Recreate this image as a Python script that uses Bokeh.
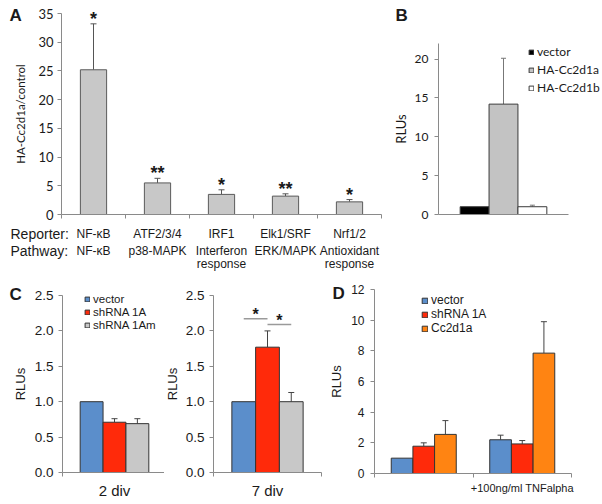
from bokeh.plotting import figure
from bokeh.models import (Range1d, FixedTicker, Whisker, TeeHead, Label, Legend,
                          LegendItem, ColumnDataSource, PrintfTickFormatter)
from bokeh.layouts import row, column
from bokeh.embed import file_html
from bokeh.resources import INLINE

# ---------------- data ----------------
# Panel A
a_reporters = ["NF-κB", "ATF2/3/4", "IRF1", "Elk1/SRF", "Nrf1/2"]
a_pathways = ["NF-κB", "p38-MAPK", "Interferon\nresponse", "ERK/MAPK", "Antioxidant\nresponse"]
a_values = [25.2, 5.5, 3.5, 3.2, 2.2]
a_errors = [8.0, 0.8, 0.8, 0.4, 0.4]
a_signif = ["*", "**", "*", "**", "*"]
a_yticks = [0, 5, 10, 15, 20, 25, 30, 35]

# Panel B
b_series = ["vector", "HA-Cc2d1a", "HA-Cc2d1b"]
b_values = [1.0, 14.2, 1.0]
b_errors = [0.0, 5.9, 0.2]
b_yticks = [0, 5, 10, 15, 20]

# Panel C
c_series = ["vector", "shRNA 1A", "shRNA 1Am"]
c_2div = [1.0, 0.71, 0.69]
c_2div_err = [0.0, 0.05, 0.07]
c_7div = [1.0, 1.77, 1.0]
c_7div_err = [0.0, 0.23, 0.13]
c_yticks = [0.0, 0.5, 1.0, 1.5, 2.0, 2.5]
c_7div_pairs = [(0, 1), (1, 2)]
c_7div_pair_heights = [2.17, 2.09]
c_7div_pair_signif = ["*", "*"]

# Panel D
d_series = ["vector", "shRNA 1A", "Cc2d1a"]
d_groups = ["", "+100ng/ml TNFalpha"]
d_vector = [1.0, 2.2]
d_shrna = [1.78, 1.93]
d_cc2d1a = [2.55, 7.85]
d_vector_err = [0.0, 0.3]
d_shrna_err = [0.22, 0.22]
d_cc2d1a_err = [0.9, 2.05]
d_yticks = [0, 2, 4, 6, 8, 10, 12]

# ---------------- styling ----------------
ARIAL = "Liberation Sans"
CALIBRI = "Lato"
AXIS_GREY = "#8a8a8a"
TEXT = "#1a1a1a"
BLUE = "#5b8ecb"
RED = "#ff2a0a"
GREY = "#c8c8c8"
ORANGE = "#ff8412"


def make_panel(ox, oy, width, height, box, xr, yr):
    """Figure whose frame fills the whole figure; the axes are drawn at the
    box (in page pixels) that holds the data ranges xr, yr."""
    bx0, by0, bx1, by1 = box
    kx = (xr[1] - xr[0]) / (bx1 - bx0)
    ky = (yr[1] - yr[0]) / (by1 - by0)
    X0 = xr[0] - (bx0 - ox) * kx
    X1 = xr[1] + (ox + width - bx1) * kx
    Y0 = yr[0] - (oy + height - by1) * ky
    Y1 = yr[1] + (by0 - oy) * ky
    p = figure(width=width, height=height, x_range=Range1d(X0, X1), y_range=Range1d(Y0, Y1),
               output_backend="svg", toolbar_location=None,
               min_border=0, min_border_left=0, min_border_right=0,
               min_border_top=0, min_border_bottom=0)
    p.xgrid.visible = False
    p.ygrid.visible = False
    p.outline_line_color = None
    p.background_fill_color = "white"
    p.border_fill_color = "white"

    def fx(rx):
        return xr[0] + (rx - bx0) * kx

    def fy(ry):
        return yr[0] + (by1 - ry) * ky

    def loc(rx, ry_bottom):
        return (rx - ox, oy + height - ry_bottom)

    p.xaxis.fixed_location = yr[0]
    p.xaxis.bounds = xr
    p.yaxis.fixed_location = xr[0]
    p.yaxis.bounds = yr
    for ax in (p.xaxis[0], p.yaxis[0]):
        ax.axis_line_color = AXIS_GREY
        ax.major_tick_line_color = AXIS_GREY
        ax.minor_tick_line_color = AXIS_GREY
        ax.major_tick_in = 0
        ax.major_tick_out = 4
        ax.minor_tick_in = 0
        ax.minor_tick_out = 4
        ax.major_label_text_color = TEXT
        ax.axis_label_text_color = TEXT
        ax.axis_label_text_font_style = "normal"
    return p, fx, fy, loc


def label(p, x, y, text, font=ARIAL, size="13px", align="center", baseline="middle",
          style="normal", y_offset=0):
    p.add_layout(Label(x=x, y=y, text=text, text_font=font, text_font_size=size,
                       text_align=align, text_baseline=baseline, text_font_style=style,
                       text_color=TEXT, y_offset=y_offset))


def whiskers(p, xs, tops, errs, color, head):
    keep = [i for i, e in enumerate(errs) if e > 0]
    src = ColumnDataSource(dict(x=[xs[i] for i in keep], top=[tops[i] for i in keep],
                                upper=[tops[i] + errs[i] for i in keep]))
    p.add_layout(Whisker(source=src, base="x", lower="top", upper="upper",
                         lower_head=None, line_color=color, line_width=1,
                         upper_head=TeeHead(size=head, line_color=color, line_width=1)))


def style_legend(p, items, loc, font, size, glyph, spacing):
    lg = Legend(items=items, location=loc, orientation="vertical",
                glyph_width=glyph, glyph_height=glyph, label_standoff=3,
                spacing=spacing, padding=0, margin=0, label_height=8,
                label_text_font=font, label_text_font_size=size,
                label_text_color=TEXT, border_line_color=None,
                background_fill_alpha=0)
    p.add_layout(lg)


# ---------------- Panel A ----------------
pA, axA, ayA, locA = make_panel(0, 0, 392, 280, (61, 13, 381, 214), (0, len(a_values)), (0, 35))
a_x = [i + 0.5 for i in range(len(a_values))]
srcA = ColumnDataSource(dict(x=a_x, top=a_values))
pA.vbar(x="x", top="top", width=0.41, source=srcA, fill_color=GREY,
        line_color="#5a5a5a", line_width=1)
whiskers(pA, a_x, a_values, a_errors, "#555555", 6)
for x, v, e, s in zip(a_x, a_values, a_errors, a_signif):
    label(pA, x, v + e, s, size="18px", baseline="alphabetic", style="bold", y_offset=5)
pA.yaxis.ticker = FixedTicker(ticks=a_yticks)
pA.yaxis.major_label_text_font = CALIBRI
pA.yaxis.major_label_text_font_size = "13px"
pA.yaxis.major_label_standoff = 4
pA.yaxis.axis_label = "HA-Cc2d1a/control"
pA.yaxis.axis_label_text_font = CALIBRI
pA.yaxis.axis_label_text_font_size = "11.5px"
pA.yaxis.axis_label_standoff = 8
pA.xaxis.ticker = FixedTicker(ticks=[], minor_ticks=list(range(len(a_values) + 1)))
label(pA, axA(10), ayA(233), "Reporter:", size="14px", align="left")
label(pA, axA(10), ayA(250), "Pathway:", size="14px", align="left")
for x, rep, path in zip(a_x, a_reporters, a_pathways):
    label(pA, x, ayA(233), rep, size="12px")
    for k, line in enumerate(path.split("\n")):
        label(pA, x, ayA(250 + 13 * k), line, size="12px")
label(pA, axA(9), ayA(15), "A", size="17px", align="left", style="bold")

# ---------------- Panel B ----------------
pB, bxB, byB, locB = make_panel(392, 0, 208, 280, (438, 43, 568, 214), (0, 4.5), (0, 22))
b_x = [1.25 + i for i in range(len(b_values))]
srcB = ColumnDataSource(dict(x=b_x, top=b_values, color=["#000000", "#c3c3c3", "#ffffff"]))
rB = pB.vbar(x="x", top="top", width=1.0, source=srcB, fill_color="color",
             line_color="#3a3a3a", line_width=1)
whiskers(pB, b_x, b_values, b_errors, "#777777", 5)
pB.yaxis.ticker = FixedTicker(ticks=b_yticks)
pB.yaxis.major_label_text_font = CALIBRI
pB.yaxis.major_label_text_font_size = "12px"
pB.yaxis.major_label_standoff = 6
pB.yaxis.axis_label = "RLUs"
pB.yaxis.axis_label_text_font = CALIBRI
pB.yaxis.axis_label_text_font_size = "13px"
pB.yaxis.axis_label_standoff = 3
pB.xaxis.ticker = FixedTicker(ticks=[])
style_legend(pB, [LegendItem(label=s, renderers=[rB], index=i) for i, s in enumerate(b_series)],
             locB(528, 95), CALIBRI, "12px", 6, 3)
label(pB, bxB(395), byB(15), "B", size="17px", align="left", style="bold")


# ---------------- Panel C ----------------
def panel_c(ox, width, box, vals, errs, xlabel, legend=False, letter=False,
            pairs=None, pair_h=None, pair_s=None, ylabel_standoff=4):
    p, fx, fy, loc = make_panel(ox, 280, width, 222, box, (0, 1), (0, 2.5))
    w = 0.22
    xs = [0.5 + (i - 1) * w for i in range(len(vals))]
    src = ColumnDataSource(dict(x=xs, top=vals, color=[BLUE, RED, GREY]))
    r = p.vbar(x="x", top="top", width=w, source=src, fill_color="color",
               line_color="#333333", line_width=1)
    whiskers(p, xs, vals, errs, "#444444", 6)
    p.yaxis.ticker = FixedTicker(ticks=c_yticks)
    p.yaxis.formatter = PrintfTickFormatter(format="%.1f")
    p.yaxis.major_label_text_font = ARIAL
    p.yaxis.major_label_text_font_size = "13.5px"
    p.yaxis.major_label_standoff = 5
    p.yaxis.axis_label = "RLUs"
    p.yaxis.axis_label_text_font = ARIAL
    p.yaxis.axis_label_text_font_size = "13px"
    p.yaxis.axis_label_standoff = ylabel_standoff
    p.xaxis.ticker = FixedTicker(ticks=[], minor_ticks=[0, 1])
    label(p, 0.5, fy(490), xlabel, size="15px")
    if legend:
        style_legend(p, [LegendItem(label=s, renderers=[r], index=i) for i, s in enumerate(c_series)],
                     loc(84, 331), ARIAL, "11.5px", 6, 1)
    if letter:
        label(p, fx(9), fy(294), "C", size="17px", align="left", style="bold")
    if pairs:
        x0 = [xs[a] for a, b in pairs]
        x1 = [xs[b] for a, b in pairs]
        p.segment(x0=x0, y0=pair_h, x1=x1, y1=pair_h, line_color="#9a9a9a", line_width=1.5)
        for a0, a1, h, s in zip(x0, x1, pair_h, pair_s):
            label(p, (a0 + a1) / 2, h, s, size="16px", baseline="alphabetic", style="bold",
                  y_offset=4)
    return p


pC1 = panel_c(0, 164, (62, 295, 166, 472), c_2div, c_2div_err, "2 div", legend=True, letter=True)
pC2 = panel_c(164, 166, (213, 295, 321, 472), c_7div, c_7div_err, "7 div", pairs=c_7div_pairs,
              pair_h=c_7div_pair_heights, pair_s=c_7div_pair_signif, ylabel_standoff=3)

# ---------------- Panel D ----------------
pD, dxD, dyD, locD = make_panel(330, 280, 270, 222, (374, 289, 571, 473), (0, len(d_groups)), (0, 12))
wD = 0.22
d_cols = [d_vector, d_shrna, d_cc2d1a]
d_errs = [d_vector_err, d_shrna_err, d_cc2d1a_err]
d_colors = [BLUE, RED, ORANGE]
dx, dtop, derr, dcol = [], [], [], []
for g in range(len(d_groups)):
    for i in range(len(d_series)):
        dx.append(g + 0.5 + (i - 1) * wD)
        dtop.append(d_cols[i][g])
        derr.append(d_errs[i][g])
        dcol.append(d_colors[i])
srcD = ColumnDataSource(dict(x=dx, top=dtop, color=dcol))
rD = pD.vbar(x="x", top="top", width=wD, source=srcD, fill_color="color",
             line_color="#333333", line_width=1)
whiskers(pD, dx, dtop, derr, "#444444", 6)
pD.yaxis.ticker = FixedTicker(ticks=d_yticks)
pD.yaxis.major_label_text_font = ARIAL
pD.yaxis.major_label_text_font_size = "12px"
pD.yaxis.major_label_standoff = 6
pD.yaxis.axis_label = "RLUs"
pD.yaxis.axis_label_text_font = ARIAL
pD.yaxis.axis_label_text_font_size = "13px"
pD.yaxis.axis_label_standoff = 4
pD.xaxis.ticker = FixedTicker(ticks=[], minor_ticks=list(range(len(d_groups) + 1)))
for g, name in enumerate(d_groups):
    if name:
        label(pD, g + 0.5, dyD(487), name, size="11px")
style_legend(pD, [LegendItem(label=s, renderers=[rD], index=i) for i, s in enumerate(d_series)],
             locD(421, 335), ARIAL, "12px", 7, 0)
label(pD, dxD(332), dyD(293), "D", size="17px", align="left", style="bold")

layout = column(row(pA, pB), row(pC1, pC2, pD))
open("out.html", "w").write(file_html(layout, INLINE))
